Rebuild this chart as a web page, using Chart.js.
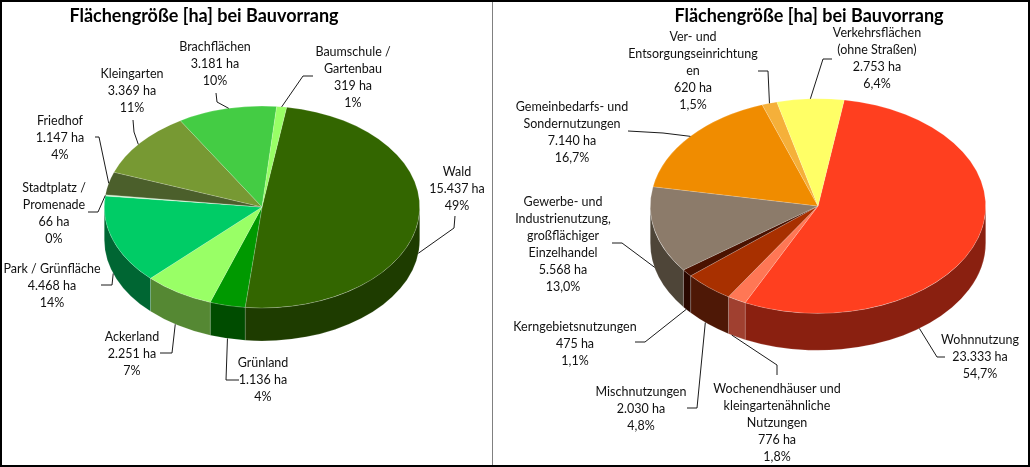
<!DOCTYPE html>
<html>
<head>
<meta charset="utf-8">
<script src="https://cdn.jsdelivr.net/npm/chart.js@4.4.1/dist/chart.umd.min.js"></script>
<style>
  body { margin: 0; background: #fff; }
  #wrap { position: relative; width: 1030px; height: 467px; overflow: hidden; }
  #left { position: absolute; left: 0; top: 0; }
  #right { position: absolute; left: 493px; top: 0; }
  #frame { position: absolute; left: 0; top: 0; width: 1030px; height: 467px; box-sizing: border-box; border: 2px solid #000; pointer-events: none; }
  #divider { position: absolute; left: 492px; top: 0; width: 1px; height: 467px; background: #808080; }
</style>
</head>
<body>
<div id="wrap">
  <canvas id="left" width="492" height="467"></canvas>
  <canvas id="right" width="537" height="467"></canvas>
  <div id="divider"></div>
  <div id="frame"></div>
</div>
<script>
// ---- data ----
const chartTitle = 'Flächengröße [ha] bei Bauvorrang';

const leftNames = [['Wald'], ['Grünland'], ['Ackerland'], ['Park / Grünfläche'], ['Stadtplatz /', 'Promenade'],
  ['Friedhof'], ['Kleingarten'], ['Brachflächen'], ['Baumschule /', 'Gartenbau']];
const leftHectares = [15437, 1136, 2251, 4468, 66, 1147, 3369, 3181, 319];
const leftTop = ['#336600', '#009900', '#99ff66', '#00cc66', '#c8f5c8', '#4b5f2b', '#779933', '#44cc44', '#99ff66'];
const leftSide = ['#1e3c00', '#004c00', '#558833', '#006633', '#80b080', '#2b3818', '#4a6020', '#2a7a2a', '#60a040'];

const rightNames = [['Wohnnutzung'], ['Wochenendhäuser und', 'kleingartenähnliche', 'Nutzungen'], ['Mischnutzungen'],
  ['Kerngebietsnutzungen'], ['Gewerbe- und', 'Industrienutzung,', 'großflächiger', 'Einzelhandel'],
  ['Gemeinbedarfs- und', 'Sondernutzungen'], ['Ver- und', 'Entsorgungseinrichtung', 'en'], ['Verkehrsflächen', '(ohne Straßen)']];
const rightHectares = [23333, 776, 2030, 475, 5568, 7140, 620, 2753];
const rightTop = ['#ff3f1f', '#ff7755', '#a83000', '#4a1200', '#8c7b6a', '#f08c00', '#f5b03a', '#ffff66'];
const rightSide = ['#8a2010', '#a04030', '#4e1806', '#2a0800', '#4e4538', '#8a5000', '#a07020', '#a0a040'];

// ---- label layout (panel coords): text centre, first line y, leader start and elbow,
//      'at' = where along the slice the leader lands (0..1) ----
const leftCallouts = [
  {x: 457, y: 172, from: [455, 216], elbow: [454, 228], at: 0.5},
  {x: 263, y: 363, from: [239, 380], elbow: [226, 380], at: 0.5},
  {x: 132, y: 337, from: [160, 353], elbow: [172, 353], at: 0.55},
  {x: 52,  y: 269, from: [101, 285], elbow: [112, 285], at: 0.5},
  {x: 54,  y: 188, from: [88, 212],  elbow: [98, 212],  at: 0.5},
  {x: 60,  y: 121, from: [95, 137],  elbow: [99, 137],  at: 0.5},
  {x: 132, y: 74,  from: [133, 120], elbow: [134, 132], at: 0.47},
  {x: 215, y: 47,  from: [216, 93],  elbow: [217, 102], at: 0.52},
  {x: 353, y: 52,  from: [313, 76],  elbow: [303, 76],  at: 0.5}
];
const rightCallouts = [
  {x: 487, y: 340, from: [452, 357], elbow: [444, 357], at: 0.68},
  {x: 284, y: 389, from: [284, 375], elbow: [284, 365], at: 0.8},
  {x: 148, y: 392, from: [194, 408], elbow: [204, 408], at: 0.58},
  {x: 82,  y: 327, from: [142, 342], elbow: [152, 342], at: 0.6},
  {x: 70,  y: 202, from: [119, 243], elbow: [129, 243], at: 0.5},
  {x: 79,  y: 107, from: [135, 131], elbow: [170, 133], at: 0.5},
  {x: 200, y: 37,  from: [265, 71],  elbow: [275, 71],  at: 0.5},
  {x: 384, y: 33,  from: [339, 59],  elbow: [330, 59],  at: 0.5}
];

function fmtHa(v) {
  return String(v).replace(/\B(?=(\d{3})+(?!\d))/g, '.') + ' ha';
}
function fmtPct(v, total, dec) {
  return (v / total * 100).toFixed(dec).replace('.', ',') + '%';
}

const TAU = Math.PI * 2;

// fake 3D: side walls under the pie, then the pie itself squashed vertically
function make3d(cfg) {
  const k = cfg.squash, depth = cfg.depth;
  return {
    id: 'pie3d',
    beforeDatasetsDraw(chart) {
      const ctx = chart.ctx;
      const arcs = chart.getDatasetMeta(0).data;
      arcs.forEach((arc, i) => {
        const {x, y, outerRadius: r} = arc;
        let a0 = arc.startAngle, a1 = arc.endAngle;
        const off = Math.floor(a0 / TAU) * TAU;
        a0 -= off; a1 -= off;
        [0, TAU].forEach(base => {
          const s = Math.max(a0, base), e = Math.min(a1, base + Math.PI);
          if (e <= s) return;
          ctx.beginPath();
          ctx.ellipse(x, y, r, r * k, 0, s, e);
          ctx.ellipse(x, y + depth, r, r * k, 0, e, s, true);
          ctx.closePath();
          ctx.fillStyle = cfg.sideColors[i];
          ctx.fill();
          ctx.strokeStyle = 'rgba(255,255,255,0.25)';
          ctx.lineWidth = 0.6;
          ctx.stroke();
        });
      });
      const cy = arcs[0].y;
      ctx.save();
      ctx.translate(0, cy);
      ctx.scale(1, k);
      ctx.translate(0, -cy);
    },
    afterDatasetsDraw(chart) {
      chart.ctx.restore();
    },
    afterDraw(chart) {
      const ctx = chart.ctx;
      const arcs = chart.getDatasetMeta(0).data;
      const values = cfg.values;
      const total = values.reduce((a, b) => a + b, 0);

      ctx.save();
      ctx.fillStyle = '#000';
      ctx.textAlign = 'center';
      ctx.textBaseline = 'alphabetic';
      ctx.font = 'bold 18px Lato';
      ctx.fillText(chartTitle, cfg.titleX, 22);

      ctx.font = '12.5px Lato';
      ctx.textBaseline = 'middle';
      ctx.fillStyle = '#111';
      arcs.forEach((arc, i) => {
        const c = cfg.callouts[i];
        const lines = cfg.names[i].concat([fmtHa(values[i]), fmtPct(values[i], total, cfg.decimals)]);
        lines.forEach((txt, j) => ctx.fillText(txt, c.x, c.y + j * 17));

        const a = arc.startAngle + (arc.endAngle - arc.startAngle) * c.at;
        const r = arc.outerRadius;
        const ex = arc.x + r * Math.cos(a);
        let ey = arc.y + r * k * Math.sin(a);
        if (Math.sin(a) > 0) ey += depth;
        ctx.beginPath();
        ctx.moveTo(c.from[0], c.from[1]);
        ctx.lineTo(c.elbow[0], c.elbow[1]);
        ctx.lineTo(ex, ey);
        ctx.strokeStyle = '#000';
        ctx.lineWidth = 0.9;
        ctx.stroke();
      });
      ctx.restore();
    }
  };
}

function makePie(id, names, values, topColors, sideColors, padding, cfg) {
  cfg.names = names;
  cfg.values = values;
  cfg.sideColors = sideColors;
  return new Chart(document.getElementById(id), {
    type: 'pie',
    data: {
      labels: names,
      datasets: [{
        data: values,
        backgroundColor: topColors,
        borderColor: 'rgba(255,255,255,0.35)',
        borderWidth: 0.6,
        hoverOffset: 0
      }]
    },
    options: {
      responsive: false,
      animation: false,
      events: [],
      rotation: 9,
      layout: { padding: padding },
      plugins: {
        legend: { display: false },
        tooltip: { enabled: false }
      }
    },
    plugins: [make3d(cfg)]
  });
}

makePie('left', leftNames, leftHectares, leftTop, leftSide,
  { left: 104, right: 72, top: 49, bottom: 102 },
  { squash: 0.64, depth: 33, callouts: leftCallouts, decimals: 0, titleX: 204 });

makePie('right', rightNames, rightHectares, rightTop, rightSide,
  { left: 157, right: 44, top: 38, bottom: 93 },
  { squash: 0.64, depth: 37, callouts: rightCallouts, decimals: 1, titleX: 316 });
</script>
</body>
</html>
